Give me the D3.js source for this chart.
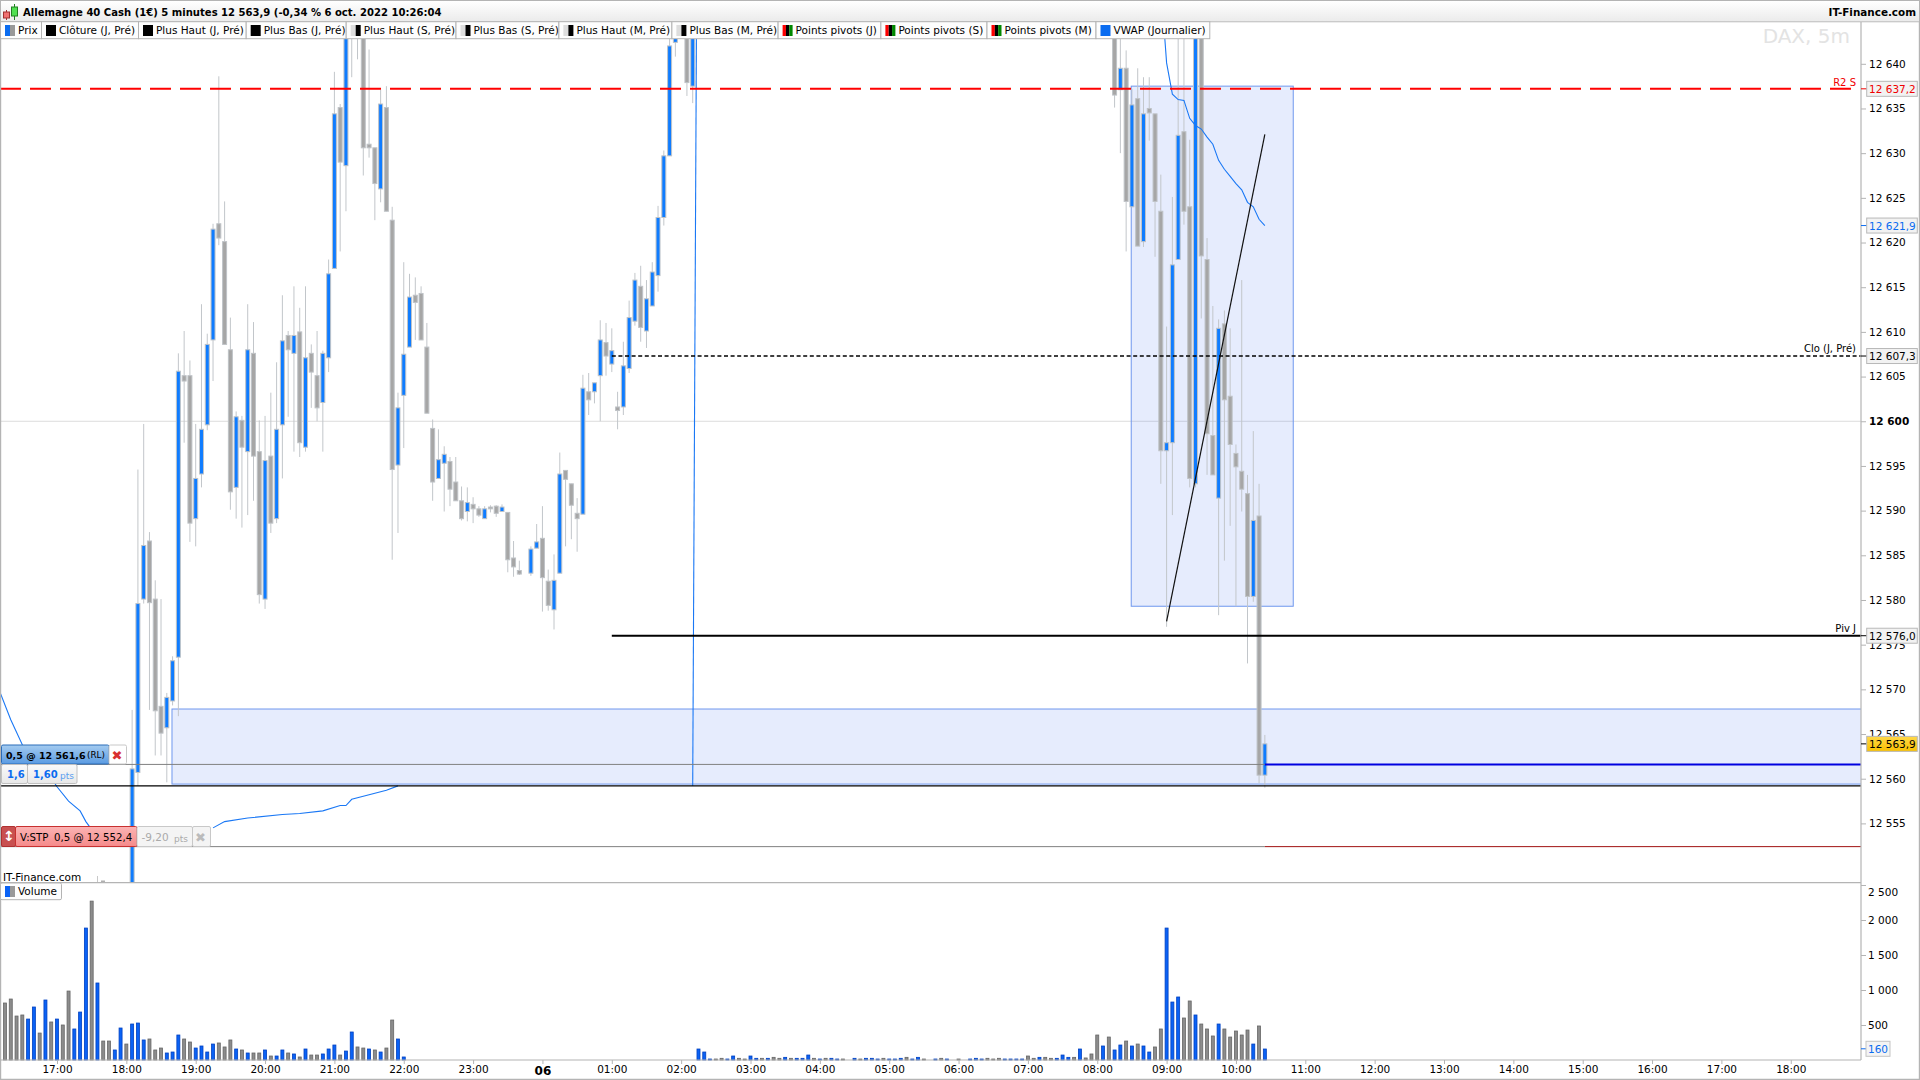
<!DOCTYPE html>
<html>
<head>
<meta charset="utf-8">
<script src="https://cdn.jsdelivr.net/npm/d3@7"></script>
<style>
html, body { margin: 0; padding: 0; background: #fff; }
svg { display: block; font-family: "DejaVu Sans", sans-serif; }
text { fill: #000; }
</style>
</head>
<body>
<div id="chart"></div>
<script>
// bars visible in the price pane (anything else is above or below the pane)
const barTime = [
  "18:05","18:10","18:15","18:20","18:25","18:30","18:35","18:40","18:45","18:50",
  "18:55","19:00","19:05","19:10","19:15","19:20","19:25","19:30","19:35","19:40",
  "19:45","19:50","19:55","20:00","20:05","20:10","20:15","20:20","20:25","20:30",
  "20:35","20:40","20:45","20:50","20:55","21:00","21:05","21:10","21:15","21:20",
  "21:25","21:30","21:35","21:40","21:45","21:50","21:55","22:00","22:05","22:10",
  "22:15","22:20","22:25","22:30","22:35","22:40","22:45","22:50","22:55","23:00",
  "23:05","23:10","23:15","23:20","23:25","23:30","23:35","23:40","23:50","23:55",
  "00:00","00:05","00:10","00:15","00:20","00:25","00:30","00:35","00:40","00:45",
  "00:50","00:55","01:00","01:05","01:10","01:15","01:20","01:25","01:30","01:35",
  "01:40","01:45","01:50","01:55","02:05","02:10","08:15","08:20","08:25","08:30",
  "08:35","08:40","08:45","08:50","08:55","09:00","09:05","09:10","09:15","09:20",
  "09:25","09:30","09:35","09:40","09:45","09:50","09:55","10:00","10:05","10:10",
  "10:15","10:20","10:25"
];
const barOpen = [
  12540,12560.7,12580.1,12586.6,12580.1,12568.1,12565.7,12568.7,12573.6,12605.1,
  12605.1,12589.1,12594.1,12599.6,12609.1,12622.1,12620.1,12608,12592.6,12600.1,
  12596.6,12607.6,12596.6,12580.1,12596.1,12589.1,12599.6,12609.6,12607.6,12610,
  12597.1,12607.6,12605.1,12602.1,12607.1,12617.1,12635.1,12628.6,12650,12668,
  12650,12631,12630.6,12626,12635.1,12622.5,12595.1,12602.9,12608.3,12614.1,
  12614.3,12608.3,12599.2,12593.6,12595.3,12595.5,12593.2,12591.1,12589.9,12590.7,
  12590.2,12589.1,12590.4,12590.5,12589.9,12589.8,12584.7,12583.3,12583,12585.8,
  12586.9,12582.1,12578.9,12583,12594.5,12593,12589.7,12589.6,12603.3,12603.3,
  12605.1,12608.8,12606.4,12601.6,12601.6,12605.9,12611.2,12615.1,12610.1,12612.9,
  12616.3,12622.8,12629.7,12642.4,12655,12637.5,12660,12637.1,12639.5,12624,
  12636.1,12620.1,12635,12634.4,12623.5,12596.7,12597.6,12618.1,12632.4,12624,
  12593,12660,12618.1,12598.4,12591.4,12610.9,12602.8,12596.4,12594.4,12591.9,
  12580.4,12589.4,12560.4
];
const barHigh = [
  12567.7,12594.6,12599.7,12587.6,12582.2,12580.1,12569.6,12573.7,12607.6,12610.1,
  12606.8,12599.7,12613.1,12609.8,12622.1,12638.6,12624.6,12611.6,12601.1,12600.6,
  12613.1,12611.1,12600.1,12600.6,12603.2,12606.6,12614.1,12610.1,12615.1,12612.7,
  12615.1,12608.6,12610.1,12607.9,12618.1,12639.1,12635.5,12665,12672,12670,
  12655,12641.6,12630.6,12637.1,12637.5,12624,12603.2,12617.8,12616.5,12616.1,
  12615.1,12611,12600.2,12599.1,12597.2,12596,12596,12592.7,12592.6,12591.5,
  12590.5,12590.5,12590.6,12590.6,12590.7,12589.8,12586.6,12584.4,12586,12588.5,
  12590.5,12583.4,12585.1,12596.5,12594.5,12593,12591.4,12605.2,12605.4,12604.3,
  12611.3,12611,12610.4,12603.3,12608.9,12613.5,12616.6,12617.4,12615.8,12617.8,
  12624.1,12630.3,12643,12655,12660,12662,12665,12650,12641.5,12637.2,
  12639.5,12638.5,12638.5,12634.4,12627.6,12610.6,12625.1,12650,12650,12631.5,
  12665,12665,12620.5,12612.9,12611.4,12612.4,12610.4,12597.4,12615.8,12594,
  12598.9,12593,12564.9
];
const barLow = [
  12538,12559.2,12579.6,12567.7,12562.6,12562.6,12559.6,12568.2,12567,12597.6,
  12586.5,12586,12592.6,12599,12604.5,12619.7,12608.6,12590.1,12589.1,12588.1,
  12589.5,12591.1,12579.6,12579,12587.5,12588.6,12593.6,12600.5,12596.6,12596,
  12596.6,12601.5,12600,12596.6,12605.5,12617.1,12619,12623.5,12638.5,12640.5,
  12627.5,12629.5,12622.5,12624.5,12623.5,12584.5,12587.5,12597,12608.3,12609.1,
  12609.1,12600.9,12591.1,12593.6,12589.9,12590.5,12591.1,12588.9,12588.8,12588.6,
  12589.3,12589.1,12589.8,12589.3,12589.9,12583.1,12582.6,12582.8,12582.7,12585.8,
  12578.7,12578.8,12576.7,12583,12586,12586.8,12585.4,12589.6,12600.7,12602,
  12600,12605.1,12605.5,12599.1,12600.7,12605.4,12610.7,12608.9,12608.2,12612.9,
  12614.5,12621.9,12629.7,12640.8,12636.4,12635.6,12635.1,12630,12619,12624,
  12619.6,12619.5,12631.4,12618.4,12593,12577,12589.5,12618.1,12622,12592.6,
  12592.6,12611.5,12594,12594,12578.3,12584.4,12588.3,12579.3,12589.9,12572.9,
  12579.8,12559.5,12559
];
const barClose = [
  12561.1,12579.6,12586.1,12579.7,12567.6,12565.1,12569.1,12573.2,12605.6,12604.5,
  12588.6,12593.6,12599.1,12608.6,12621.5,12620.5,12608.6,12592.1,12600.5,12597.1,
  12608,12596.1,12580.6,12595.6,12588.6,12599.1,12609,12608,12609.6,12597.6,
  12607.1,12605.5,12601.5,12607.6,12616.5,12634.4,12629,12660,12668,12650,
  12630.6,12630.6,12626.6,12635.5,12623.5,12594.6,12601.5,12607.5,12613.9,12613.3,
  12609.1,12600.9,12593.2,12595.7,12596.3,12592.4,12591.1,12589.1,12590.9,12590.2,
  12589.5,12590.2,12590.2,12589.7,12590.4,12584.5,12583.7,12582.9,12585.7,12586.5,
  12582.5,12579.4,12582.2,12594.1,12593.5,12590.6,12589.1,12603.7,12602.4,12604.3,
  12609.1,12607.3,12607.9,12601.2,12606.2,12611.6,12615.8,12610.5,12613.7,12616.7,
  12622.8,12629.7,12642,12650,12637.9,12660,12636.5,12639.5,12624.6,12635.4,
  12619.6,12634.4,12634.5,12624.6,12596.7,12597.6,12617.5,12632,12623.5,12593.6,
  12660,12618.5,12598.6,12594,12610.4,12602.4,12597.4,12594.9,12592.4,12580.4,
  12588.9,12560.4,12563.9
];

// volume: one value per 5 minutes from the start time of each run
const volumeStart = ["16:15", "02:15"];
const volumeEvening = [
  814,871,628,643,585,757,385,857,543,585,
  500,985,443,685,1885,2270,1100,271,271,143,
  457,228,514,528,286,300,143,171,100,114,
  357,300,257,171,200,114,228,243,186,286,
  157,143,100,100,100,143,57,57,143,100,
  86,43,157,71,71,86,157,214,71,128,
  400,186,171,157,143,114,171,571,300,43
];
const volumeEveningSide = "ggggbbgbgb" + "ggbbbgbggb" + "bgbbbgggbb" + "bggbbbbggg" + "bgbggbgbbg" + "bgbggbbbgb" + "bggbgbggbb";
const volumeMorning = [
  157,114,14,14,24,14,57,24,14,57,
  24,24,24,38,24,38,24,24,24,71,
  24,14,24,24,14,14,0,24,14,24,
  24,14,24,14,14,24,38,14,38,14,
  0,14,24,14,0,14,0,14,24,14,
  24,14,24,14,14,14,14,57,24,38,
  38,24,24,71,38,38,157,29,86,357,
  200,328,143,214,271,200,228,200,114,186,
  443,1885,828,900,600,843,643,514,443,343,
  514,443,328,414,357,428,228,486,157
];
const volumeMorningSide = "bbbggbbggb" + "bgbggbgbbb" + "gbgbbggbgb" + "bbgbbbgbbg" + "gbgbgggbbb" + "gggbbbbggb" + "ggbbbgbggg" + "bgbbgbgbbg" + "gbbbggbggg" + "bgggggbgb";

// VWAP, read bar by bar; it breaks behind the order tags and restarts in the night
const vwapTime = [
  ["16:05","16:10","16:20","16:30","16:55","17:00","17:10","17:20","17:25","17:30"],
  ["19:15","19:25","19:45","20:15","20:30","20:50","21:05","21:10","21:15","21:30","21:45","21:55"],
  ["02:10","02:15"],
  ["08:55","09:00","09:05","09:10","09:15","09:20","09:25","09:30","09:35","09:40","09:45","09:50","09:55","10:00","10:05","10:10","10:15","10:20","10:25"]
];
const vwapValue = [
  [12571.8,12569.9,12566.6,12563.8,12560.1,12559.1,12557.5,12556.4,12555.2,12554.3],
  [12554.5,12555.2,12555.6,12556,12556.1,12556.4,12557,12557,12557.7,12558.2,12558.7,12559.2],
  [12559.2,12689.6],
  [12648.9,12640.1,12636.6,12636,12635.9,12633.9,12633.1,12632.7,12631.8,12631,12629.2,12628.2,12627.4,12626.6,12625.9,12624.5,12624,12622.6,12621.9]
];

const priceTicks = [12640,12635,12630,12625,12620,12615,12610,12605,12600,12595,12590,12585,12580,12575,12570,12565,12560,12555];
const volumeTicks = [500,1000,1500,2000,2500];
const markerValue = [12637.2,12621.9,12607.3,12576.0,12563.9];
const markerColor = ["#f00000","#0a6cf0","#000","#000","#000"];
const markerFill = ["#f2f2f2","#f2f2f2","#f2f2f2","#f2f2f2","#fcc400"];

const legendLabels = ["Prix","Clôture (J, Pré)","Plus Haut (J, Pré)","Plus Bas (J, Pré)","Plus Haut (S, Pré)","Plus Bas (S, Pré)","Plus Haut (M, Pré)","Plus Bas (M, Pré)","Points pivots (J)","Points pivots (S)","Points pivots (M)","VWAP (Journalier)"];
const legendSwatch = [["#0a6cf0","#999"],["#000"],["#000"],["#000"],["#ddd","#000"],["#ddd","#000"],["#ddd","#000"],["#ddd","#000"],["#f00","#000","#080"],["#f00","#000","#080"],["#f00","#000","#080"],["#0a6cf0"]];
const legendEdges = [0,41,138,245.7,345.7,455.5,558.4,671.4,777.6,880.4,986.5,1095.5,1209.3];

const R2 = 12637.2, CLO = 12607.3, PIV = 12576.0, ROUND = 12600, LOWLINE = 12559.2;
const ENTRY = 12561.6, STOP = 12552.4;
const zoneA = { from: "08:30", to: "10:50", top: 12637.5, bottom: 12579.3 };
const zoneB = { from: "18:40", top: 12567.8, bottom: 12559.4 };
const trendTime = ["09:00","10:25"], trendValue = [12577.6,12632.1];

const GREYLINE = "#b4b4b4";
const paneRight = 1861, paneTop = 38.7, paneBottom = 882.7, volBottom = 1060;

function toDate(s) {
  const [h, m] = s.split(":").map(Number);
  return new Date(2022, 9, h >= 16 ? 5 : 6, h, m);
}

const x = d3.scaleTime()
  .domain([new Date(2022, 9, 5, 16, 0), new Date(2022, 9, 6, 19, 0)])
  .range([-12.35, 1860.1]);
const y = d3.scaleLinear().domain([12640, 12555]).range([63.8, 823.4]);
const yVol = d3.scaleLinear().domain([0, 2500]).range([volBottom, 885]);
const fr = d3.formatLocale({ decimal: ",", thousands: " ", grouping: [3], currency: ["", ""] });
const fmtInt = fr.format(",d"), fmtDec = fr.format(",.1f");

const svg = d3.select("#chart").append("svg").attr("width", 1920).attr("height", 1080);
const defs = svg.append("defs");

function gradient(id, a, b) {
  const g = defs.append("linearGradient").attr("id", id).attr("x1", 0).attr("x2", 0).attr("y1", 0).attr("y2", 1);
  g.append("stop").attr("offset", "0%").attr("stop-color", a);
  g.append("stop").attr("offset", "100%").attr("stop-color", b);
}
gradient("gTitle", "#ffffff", "#ebebeb");
gradient("gBlue", "#a4cbf0", "#5a9be2");
gradient("gRed", "#fbb4b4", "#f58a8a");
gradient("gGrey", "#fafafa", "#e8e8e8");
gradient("gYellow", "#ffd84a", "#f8c000");

defs.append("clipPath").attr("id", "clipMain").append("rect")
  .attr("x", 0).attr("y", paneTop).attr("width", paneRight).attr("height", paneBottom - paneTop);

// price pane
const main = svg.append("g").attr("clip-path", "url(#clipMain)");

main.append("line").attr("x1", 0).attr("x2", paneRight).attr("y1", y(ROUND)).attr("y2", y(ROUND))
  .attr("stroke", "#dcdcdc").attr("stroke-width", 1);

function zone(x0, x1, top, bottom) {
  main.append("rect").attr("x", x0).attr("y", y(top)).attr("width", x1 - x0).attr("height", y(bottom) - y(top))
    .attr("fill", "rgba(60,110,240,0.13)").attr("stroke", "#6f97ee").attr("stroke-width", 1);
}
zone(x(toDate(zoneB.from)) - 0.6, paneRight + 5, zoneB.top, zoneB.bottom);
zone(x(toDate(zoneA.from)) - 0.7, x(toDate(zoneA.to)) - 0.5, zoneA.top, zoneA.bottom);

const bars = barTime.map((t, i) => ({ t: toDate(t), o: barOpen[i], h: barHigh[i], l: barLow[i], c: barClose[i] }));

main.append("g").selectAll("line").data(bars).join("line")
  .attr("x1", d => x(d.t)).attr("x2", d => x(d.t))
  .attr("y1", d => y(d.h)).attr("y2", d => y(d.l))
  .attr("stroke", "#c2c6ca").attr("stroke-width", 1);

main.append("g").selectAll("rect").data(bars).join("rect")
  .attr("x", d => x(d.t) - 2)
  .attr("width", 4)
  .attr("y", d => y(Math.max(d.o, d.c)))
  .attr("height", d => Math.max(1.5, Math.abs(y(d.o) - y(d.c))))
  .attr("fill", d => d.c >= d.o ? "#0f7cff" : "#a6a6a6")
  .attr("stroke", "#bfc3c7").attr("stroke-width", 1);

// VWAP
const vwapLine = d3.line().x(d => x(d.t)).y(d => y(d.v));
vwapTime.forEach((times, k) => {
  const pts = times.map((t, i) => ({ t: toDate(t), v: vwapValue[k][i] }));
  main.append("path").attr("d", vwapLine(pts)).attr("fill", "none").attr("stroke", "#1a78f5").attr("stroke-width", 1.1);
});

// level lines
const hline = (x0, x1, v, color, w, dash) => main.append("line")
  .attr("x1", x0).attr("x2", x1).attr("y1", y(v)).attr("y2", y(v))
  .attr("stroke", color).attr("stroke-width", w).attr("stroke-dasharray", dash || null);
const tLast = x(toDate("10:25")), t0100 = x(toDate("01:00"));
hline(0, 1852, R2, "#ff0000", 2, "21,9");
hline(t0100, paneRight, CLO, "#000", 1.3, "4,2.6");
hline(t0100, paneRight, PIV, "#000", 2);
hline(0, paneRight, LOWLINE, "#000", 1.2);
hline(0, tLast, ENTRY, "#808080", 1);
hline(tLast, paneRight, ENTRY, "#0000e0", 2);
hline(0, tLast, STOP, "#808080", 1);
hline(tLast, paneRight, STOP, "#a01010", 1);

main.append("line")
  .attr("x1", x(toDate(trendTime[0]))).attr("x2", x(toDate(trendTime[1])))
  .attr("y1", y(trendValue[0])).attr("y2", y(trendValue[1]))
  .attr("stroke", "#111").attr("stroke-width", 1.2);

const lvlLabel = (txt, yy, color) => svg.append("text").attr("x", 1856).attr("y", yy)
  .attr("text-anchor", "end").attr("font-size", 10).style("fill", color).text(txt);
lvlLabel("R2 S", y(R2) - 3, "#f00000");
lvlLabel("Clo (J, Pré)", y(CLO) - 4, "#000");
lvlLabel("Piv J", y(PIV) - 4, "#000");

svg.append("text").attr("x", 1850).attr("y", 43).attr("text-anchor", "end")
  .attr("font-size", 20).style("fill", "#e3e3e3").text("DAX, 5m");

// volume pane
const volumeRows = [];
[[volumeEvening, volumeEveningSide, 0], [volumeMorning, volumeMorningSide, 1]].forEach(([vals, sides, k]) => {
  const start = toDate(volumeStart[k]);
  vals.forEach((v, i) => {
    if (v > 0) volumeRows.push({ t: d3.timeMinute.offset(start, i * 5), v: v, side: sides[i] });
  });
});
svg.append("g").selectAll("rect").data(volumeRows).join("rect")
  .attr("x", d => x(d.t) - 1.5)
  .attr("width", 3)
  .attr("y", d => yVol(d.v))
  .attr("height", d => volBottom - yVol(d.v))
  .attr("fill", d => d.side === "b" ? "#0a62f5" : "#8c8c8c")
  .attr("stroke", d => d.side === "b" ? "#0040c0" : "#666").attr("stroke-width", 0.8);

// frame lines
const frame = svg.append("g").attr("stroke", GREYLINE).attr("stroke-width", 1.2);
[[0, 0.6, 1920, 0.6], [0, 21.7, 1920, 21.7], [0, paneBottom, paneRight, paneBottom], [0, volBottom, paneRight, volBottom],
 [0, 1079.4, 1920, 1079.4], [0.6, 0, 0.6, 1080], [paneRight, 21.7, paneRight, volBottom], [1919.4, 0, 1919.4, 1080]]
  .forEach(c => frame.append("line").attr("x1", c[0]).attr("y1", c[1]).attr("x2", c[2]).attr("y2", c[3]));

// axes
const styleAxis = g => {
  g.select(".domain").remove();
  g.selectAll(".tick line").attr("stroke", GREYLINE);
  g.selectAll("text").attr("font-family", '"DejaVu Sans", sans-serif').attr("font-size", 10.5);
};
svg.append("g").attr("transform", `translate(${paneRight},0)`)
  .call(d3.axisRight(y).tickValues(priceTicks).tickFormat(fmtInt).tickSize(5).tickPadding(3))
  .call(styleAxis)
  .call(g => g.selectAll(".tick text").attr("font-weight", d => d === ROUND ? "bold" : null));
svg.append("g").attr("transform", `translate(${paneRight},0)`)
  .call(d3.axisRight(yVol).tickValues(volumeTicks).tickFormat(fmtInt).tickSize(5).tickPadding(2))
  .call(styleAxis)
  .call(g => g.selectAll(".tick text").attr("dy", d => d === 2500 ? "1em" : "0.32em"));

const hourTicks = d3.timeHour.range(new Date(2022, 9, 5, 17), new Date(2022, 9, 6, 19));
svg.append("g").attr("transform", `translate(0,${volBottom})`)
  .call(d3.axisBottom(x).tickValues(hourTicks).tickSize(4).tickPadding(2)
    .tickFormat(d => d.getHours() === 0 ? "06" : d3.timeFormat("%H:%M")(d)))
  .call(styleAxis)
  .call(g => g.selectAll(".tick text").attr("font-weight", d => d.getHours() === 0 ? "bold" : null)
    .attr("font-size", d => d.getHours() === 0 ? 12 : 10.5));

// value markers on the price axis
markerValue.forEach((v, i) => {
  const my = y(v);
  svg.append("line").attr("x1", paneRight).attr("x2", 1867).attr("y1", my).attr("y2", my).attr("stroke", markerColor[i]);
  svg.append("rect").attr("x", 1866.7).attr("y", my - 7.5).attr("width", 50.6).attr("height", 15)
    .attr("fill", i === 4 ? "url(#gYellow)" : markerFill[i]).attr("stroke", "#b8b8b8");
  svg.append("text").attr("x", 1869).attr("y", my + 4).attr("font-size", 10.5).style("fill", markerColor[i]).text(fmtDec(v));
});
svg.append("line").attr("x1", paneRight).attr("x2", 1866).attr("y1", yVol(160)).attr("y2", yVol(160)).attr("stroke", "#0a6cf0");
svg.append("rect").attr("x", 1866).attr("y", yVol(160) - 7.5).attr("width", 24).attr("height", 15).attr("fill", "#f4f4f4").attr("stroke", "#c4c4c4");
svg.append("text").attr("x", 1868).attr("y", yVol(160) + 4).attr("font-size", 10.5).style("fill", "#0a6cf0").text("160");

// title bar
svg.append("rect").attr("x", 1).attr("y", 1).attr("width", 1918).attr("height", 20.4).attr("fill", "url(#gTitle)");
svg.append("line").attr("x1", 6.5).attr("x2", 6.5).attr("y1", 10).attr("y2", 20).attr("stroke", "#a03030");
svg.append("rect").attr("x", 3.5).attr("y", 12).attr("width", 6).attr("height", 6).attr("fill", "#f07070").attr("stroke", "#a03030");
svg.append("line").attr("x1", 14.5).attr("x2", 14.5).attr("y1", 4).attr("y2", 20).attr("stroke", "#208020");
svg.append("rect").attr("x", 11.5).attr("y", 7).attr("width", 6).attr("height", 9).attr("fill", "#50e050").attr("stroke", "#208020");
svg.append("text").attr("x", 23).attr("y", 16).attr("font-size", 10.05).attr("font-weight", "bold")
  .text("Allemagne 40 Cash (1€) 5 minutes 12 563,9 (-0,34 % 6 oct. 2022 10:26:04");
svg.append("text").attr("x", 1916).attr("y", 16).attr("text-anchor", "end").attr("font-size", 10.4).attr("font-weight", "bold").text("IT-Finance.com");

// legend row
const legend = svg.append("g");
legendLabels.forEach((label, i) => {
  const left = legendEdges[i], right = legendEdges[i + 1];
  legend.append("rect").attr("x", left + 0.5).attr("y", 21.7).attr("width", right - left).attr("height", 17)
    .attr("fill", "#fdfdfd").attr("stroke", GREYLINE);
  const sw = d3.scaleBand().domain(d3.range(legendSwatch[i].length)).range([left + 5, left + 15]);
  legendSwatch[i].forEach((c, k) => legend.append("rect").attr("x", sw(k)).attr("y", 25).attr("width", sw.bandwidth()).attr("height", 11).attr("fill", c));
  legend.append("text").attr("x", left + 18).attr("y", 34).attr("font-size", 10.5).text(label);
});

// order tags
function tagBox(x0, y0, w, h, fill, stroke) {
  svg.append("rect").attr("x", x0).attr("y", y0).attr("width", w).attr("height", h).attr("rx", 1.5)
    .attr("fill", fill).attr("stroke", stroke);
}
function tagText(txt, x0, y0, size, color, weight) {
  svg.append("text").attr("x", x0).attr("y", y0).attr("font-size", size).attr("font-weight", weight || null).style("fill", color).text(txt);
}
tagBox(1.5, 745, 107.5, 19, "url(#gBlue)", "#2a6cb8");
tagBox(109, 745, 17.5, 19, "#fff", "#c8c8c8");
tagText("0,5 @ 12 561,6", 6, 758.5, 9.5, "#000", "bold");
tagText("(RL)", 87, 758, 8.8, "#000");
tagText("✖", 111.5, 760, 13, "#d83030");

tagBox(1.5, 764.5, 26, 19, "url(#gGrey)", "#c0c0c0");
tagBox(27.5, 764.5, 49.5, 19, "url(#gGrey)", "#c0c0c0");
tagText("1,6", 7, 778, 10, "#0a6cf0", "bold");
tagText("1,60", 33, 778, 10, "#0a6cf0", "bold");
tagText("pts", 60, 779, 9, "#5a9ef0");

tagBox(1.5, 826.5, 14, 20, "#c85050", "#b03030");
tagText("↕", 3, 841, 14, "#fff", "bold");
tagBox(15.5, 826.5, 121.5, 20, "url(#gRed)", "#c83030");
tagText("V:STP", 20, 841, 10.2, "#000");
tagText("0,5 @ 12 552,4", 54, 841, 10.2, "#000");
tagBox(137, 826.5, 55.5, 20, "#f4f4f4", "#c8c8c8");
tagText("-9,20", 141.5, 841, 10.5, "#aaa");
tagText("pts", 174, 842, 9, "#aaa");
tagBox(192.5, 826.5, 18, 20, "#f4f4f4", "#c8c8c8");
tagText("✖", 195, 842, 13, "#bbb");

tagText("IT-Finance.com", 3, 880.5, 10.5, "#000");
svg.append("line").attr("x1", 97.5).attr("x2", 97.5).attr("y1", 876).attr("y2", 882).attr("stroke", "#c8c8c8");
svg.append("rect").attr("x", 101).attr("y", 880.5).attr("width", 4).attr("height", 1.5).attr("fill", "#b0b0b0");
tagBox(0.5, 883, 61, 16.7, "#fdfdfd", GREYLINE);
svg.append("rect").attr("x", 5).attr("y", 886).attr("width", 5).attr("height", 11).attr("fill", "#0a62f5");
svg.append("rect").attr("x", 10).attr("y", 886).attr("width", 5).attr("height", 11).attr("fill", "#999");
tagText("Volume", 18, 895, 10.5, "#000");
</script>
</body>
</html>
